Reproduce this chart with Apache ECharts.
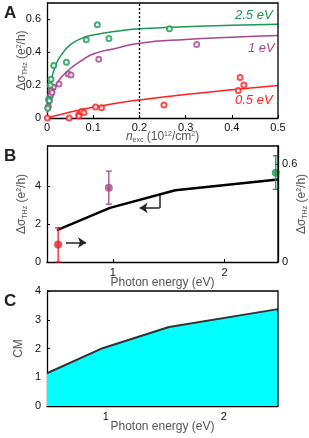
<!DOCTYPE html>
<html><head><meta charset="utf-8">
<script src="https://cdn.jsdelivr.net/npm/echarts@6/dist/echarts.min.js"></script>
<style>html,body{margin:0;padding:0;background:#fff}#c{width:309px;height:438px}</style>
</head><body><div id="c"></div>
<script>
// Panel A: scatter data [n_exc, dSigma]
const greenPts = [[0.109,0.567],[0.265,0.543],[0.085,0.476],[0.134,0.484],[0.042,0.34],[0.0145,0.319],[0.0087,0.236],[0.007,0.2],[0.004,0.114],[0.005,0.105],[0.0015,0.06]];
const purplePts = [[0.324,0.447],[0.112,0.358],[0.046,0.268],[0.052,0.262],[0.026,0.207],[0.0137,0.187],[0.0087,0.167],[0.008,0.14],[0.0043,0.11],[0.003,0.07],[0.011,0.155]];
const redPts = [[0.0007,0.0],[0.048,0.0],[0.069,0.022],[0.069,0.012],[0.075,0.039],[0.08,0.033],[0.105,0.067],[0.118,0.063],[0.253,0.079],[0.414,0.167],[0.418,0.246],[0.426,0.201]];
// Panel A fit curves
const fitX = [0,0.005,0.01,0.02,0.03,0.05,0.075,0.1,0.15,0.2,0.3,0.4,0.5];
const greenFit = [0.10,0.17,0.24,0.33,0.38,0.445,0.485,0.505,0.528,0.543,0.556,0.565,0.571];
const purpleFit = [0.03,0.07,0.12,0.20,0.245,0.30,0.35,0.39,0.425,0.455,0.478,0.492,0.502];
const redFit = [0,0.004,0.008,0.015,0.022,0.036,0.052,0.065,0.09,0.11,0.143,0.172,0.198];
const dashedX = 0.2;
// axis ranges
const aX = [0,0.5], aY = [0,0.7];
const bX = [0.41,2.48], bY = [0,6.09], bY2 = [0,0.712];
const cX = [0.5,2.46], cY = [0,4];
// Panel B
const bEnergy = [0.5,0.974,1.56,2.48];
const bSigma = [1.67,2.84,3.77,4.33];
const bPointE = [0.51,0.964,2.46];
const bPointVal = [0.107,0.455,0.548];
const bPointLow = [0.0,0.355,0.446];
const bPointHigh = [0.21,0.558,0.652];
const bArrowHeads = [[[0.58,1.02],[0.76,1.02]],[[1.42,2.84],[1.24,2.84]]];
const bArrowStems = [[[1.42,3.51],[1.42,2.84]]];
// Panel C
const cEnergy = [0.5,0.958,1.535,2.46];
const cCM = [1.14,1.99,2.75,3.37];

const GREEN='#1a9a50', PURPLE='#a8468f', RED='#ff2020';
const PT_COLORS=['#e8222a','#a04a8a','#139a4a'];
const FONT='Liberation Sans, Arial, sans-serif';
const GRAY='#555';
const rich = {a:{fontSize:12,color:GRAY,fontFamily:FONT},s:{fontSize:7,color:GRAY,fontFamily:FONT,padding:[7,0,0,0]},p:{fontSize:7,color:GRAY,fontFamily:FONT,padding:[0,0,6,0]}};
const sigName = '{a|Δσ}{s|THz}{a| (e}{p|2}{a|/h)}';

const chart = echarts.init(document.getElementById('c'));
const lbl = {color:'#111',fontSize:11,fontFamily:FONT};
const axLine = {show:true,onZero:false,lineStyle:{color:'#000',width:1.3}};
function zip(xs,ys){return xs.map((x,i)=>[x,ys[i]]);}
const gridBase = {left:47,right:31,containLabel:false,outerBoundsMode:'none'};

const texts = [
  {type:'text',left:4,top:5,style:{text:'A',font:'bold 17px '+FONT,fill:'#222'}},
  {type:'text',left:4,top:148,style:{text:'B',font:'bold 17px '+FONT,fill:'#222'}},
  {type:'text',left:4,top:293,style:{text:'C',font:'bold 17px '+FONT,fill:'#222'}},
  {type:'text',left:235,top:9,style:{text:'2.5 eV',font:'italic 13px '+FONT,fill:GREEN}},
  {type:'text',left:248,top:42,style:{text:'1 eV',font:'italic 13px '+FONT,fill:PURPLE}},
  {type:'text',left:235,top:94,style:{text:'0.5 eV',font:'italic 13px '+FONT,fill:RED}}
];

const option = {
  animation:false,
  grid:[
    Object.assign({top:3,height:115},gridBase),
    Object.assign({top:146,height:116},gridBase),
    Object.assign({top:291,height:115},gridBase)
  ],
  xAxis:[
    {gridIndex:0,type:'value',min:aX[0],max:aX[1],interval:0.1,axisLine:axLine,axisTick:{inside:true,length:3},splitLine:{show:false},
     axisLabel:Object.assign({margin:4,formatter:v=>String(+v.toFixed(1))},lbl),
     name:'{i|n}{s|exc}{a| (10}{p|12}{a|/cm}{p|2}{a|)}',nameLocation:'middle',nameGap:12,nameMoveOverlap:false,
     nameTextStyle:{rich:Object.assign({i:{fontSize:12,fontStyle:'italic',color:GRAY,fontFamily:FONT}},rich)}},
    {gridIndex:1,type:'value',min:bX[0],max:bX[1],axisLine:axLine,axisTick:{inside:true,length:3,customValues:[1,2]},splitLine:{show:false},
     axisLabel:Object.assign({margin:5,customValues:[1,2]},lbl),
     name:'Photon energy (eV)',nameLocation:'middle',nameGap:15,nameMoveOverlap:false,nameTextStyle:{fontSize:12,color:GRAY,fontFamily:FONT}},
    {gridIndex:2,type:'value',min:cX[0],max:cX[1],axisLine:axLine,axisTick:{inside:true,length:3,customValues:[1,2]},splitLine:{show:false},
     axisLabel:Object.assign({margin:5,customValues:[1,2]},lbl),
     name:'Photon energy (eV)',nameLocation:'middle',nameGap:15,nameMoveOverlap:false,nameTextStyle:{fontSize:12,color:GRAY,fontFamily:FONT}}
  ],
  yAxis:[
    {gridIndex:0,type:'value',min:aY[0],max:aY[1],axisLine:axLine,axisTick:{inside:true,length:3,customValues:[0,0.2,0.4,0.6]},splitLine:{show:false},
     axisLabel:Object.assign({margin:6,customValues:[0,0.2,0.4,0.6],formatter:v=>String(+(+v).toFixed(1))},lbl),
     name:sigName,nameLocation:'middle',nameGap:18,nameRotate:90,nameMoveOverlap:false,nameTextStyle:{rich:rich}},
    {gridIndex:1,type:'value',min:bY[0],max:bY[1],axisLine:axLine,axisTick:{inside:true,length:3,customValues:[0,2,4]},splitLine:{show:false},
     axisLabel:Object.assign({margin:6,customValues:[0,2,4]},lbl),
     name:sigName,nameLocation:'middle',nameGap:18,nameRotate:90,nameMoveOverlap:false,nameTextStyle:{rich:rich}},
    {gridIndex:1,type:'value',position:'right',min:bY2[0],max:bY2[1],axisLine:axLine,axisTick:{inside:true,length:3,customValues:[0,0.6]},splitLine:{show:false},
     axisLabel:Object.assign({margin:4,customValues:[0,0.6],formatter:v=>String(+(+v).toFixed(1))},lbl),
     name:sigName,nameLocation:'middle',nameGap:17,nameRotate:90,nameMoveOverlap:false,nameTextStyle:{rich:rich}},
    {gridIndex:2,type:'value',min:cY[0],max:cY[1],interval:1,axisLine:axLine,axisTick:{inside:true,length:3},splitLine:{show:false},
     axisLabel:Object.assign({margin:6},lbl),
     name:'CM',nameLocation:'middle',nameGap:22,nameRotate:90,nameMoveOverlap:false,nameTextStyle:{fontSize:12,color:GRAY,fontFamily:FONT}}
  ],
  series:[
    {type:'line',xAxisIndex:0,yAxisIndex:0,data:zip(fitX,redFit),smooth:true,showSymbol:false,lineStyle:{color:RED,width:1.5},z:3,
     markLine:{silent:true,symbol:['none','none'],label:{show:false},lineStyle:{color:'#000',type:[2,2],width:1.3},data:[{xAxis:dashedX}]}},
    {type:'line',xAxisIndex:0,yAxisIndex:0,data:zip(fitX,purpleFit),smooth:true,showSymbol:false,lineStyle:{color:PURPLE,width:1.5},z:3},
    {type:'line',xAxisIndex:0,yAxisIndex:0,data:zip(fitX,greenFit),smooth:true,showSymbol:false,lineStyle:{color:GREEN,width:1.5},z:3},
    {type:'scatter',xAxisIndex:0,yAxisIndex:0,data:redPts,symbol:'emptyCircle',symbolSize:5,itemStyle:{color:RED,borderColor:RED,borderWidth:1.2},z:4},
    {type:'scatter',xAxisIndex:0,yAxisIndex:0,data:purplePts,symbol:'emptyCircle',symbolSize:5,itemStyle:{color:PURPLE,borderColor:PURPLE,borderWidth:1.2},z:4},
    {type:'scatter',xAxisIndex:0,yAxisIndex:0,data:greenPts,symbol:'emptyCircle',symbolSize:5,itemStyle:{color:GREEN,borderColor:GREEN,borderWidth:1.2},z:4},
    {type:'line',xAxisIndex:1,yAxisIndex:1,data:zip(bEnergy,bSigma),showSymbol:false,lineStyle:{color:'#000',width:2.5},z:3},
    {type:'lines',coordinateSystem:'cartesian2d',xAxisIndex:1,yAxisIndex:1,symbol:['none','arrow'],symbolSize:8,
     lineStyle:{color:'#222',width:1.5,opacity:1},data:bArrowHeads.map(c=>({coords:c})),z:3},
    {type:'lines',coordinateSystem:'cartesian2d',xAxisIndex:1,yAxisIndex:1,symbol:['none','none'],
     lineStyle:{color:'#222',width:1.5,opacity:1},data:bArrowStems.map(c=>({coords:c})),z:3},
    {type:'custom',xAxisIndex:1,yAxisIndex:2,z:4,
     data:bPointE.map((e,i)=>[e,bPointLow[i],bPointHigh[i],i]),
     renderItem:function(params,api){
       const x=api.value(0), lo=api.coord([x,api.value(1)]), hi=api.coord([x,api.value(2)]);
       const col=PT_COLORS[api.value(3)], w=3;
       const st={stroke:col,lineWidth:1.3};
       return {type:'group',children:[
         {type:'line',shape:{x1:lo[0],y1:lo[1],x2:hi[0],y2:hi[1]},style:st},
         {type:'line',shape:{x1:lo[0]-w,y1:lo[1],x2:lo[0]+w,y2:lo[1]},style:st},
         {type:'line',shape:{x1:hi[0]-w,y1:hi[1],x2:hi[0]+w,y2:hi[1]},style:st}
       ]};
     }},
    {type:'scatter',xAxisIndex:1,yAxisIndex:2,z:5,symbolSize:8,
     data:bPointE.map((e,i)=>({value:[e,bPointVal[i]],itemStyle:{color:PT_COLORS[i]}}))},
    {type:'line',xAxisIndex:2,yAxisIndex:3,data:zip(cEnergy,cCM),showSymbol:false,lineStyle:{color:'#333',width:2},areaStyle:{color:'#00ffff',opacity:1},z:3}
  ],
  graphic:texts
};
chart.setOption(option);

// Frame lines (top and right edges) derived from the axes via convertToPixel
function framePts(gi, xr, yr){
  const p0 = chart.convertToPixel({gridIndex:gi},[xr[0],yr[0]]);
  const p1 = chart.convertToPixel({gridIndex:gi},[xr[1],yr[1]]);
  return [[p0[0],p1[1]],[p1[0],p1[1]],[p1[0],p0[1]]];
}
const frames = [framePts(0,aX,aY), framePts(1,bX,bY), framePts(2,cX,cY)].map(pts=>({
  type:'polyline',z:100,silent:true,shape:{points:pts},style:{fill:null,stroke:'#000',lineWidth:1.3}
}));
chart.setOption({graphic:texts.concat(frames)});
</script></body></html>
